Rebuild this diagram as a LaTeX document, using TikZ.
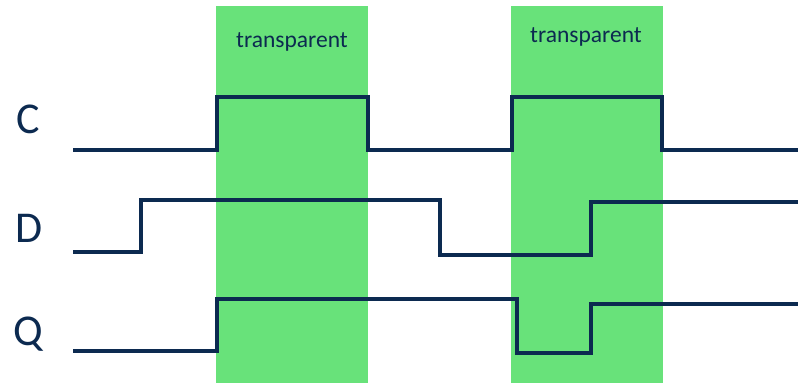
\documentclass[tikz,border=0pt]{standalone}
\usepackage{fontspec}
\setmainfont{Carlito}
\definecolor{navy}{RGB}{12,42,80}
\definecolor{latchgreen}{RGB}{104,226,122}
\tikzset{
  wave/.style={draw=navy, line width=3.6pt, line join=miter},
  window/.style={fill=latchgreen, draw=none},
  siglabel/.style={text=navy, font=\fontsize{44}{48}\selectfont, inner sep=0pt},
  winlabel/.style={text=navy, font=\fontsize{23.5}{26}\selectfont, inner sep=0pt}
}
\begin{document}
\begin{tikzpicture}[x=1pt,y=-1pt]
\useasboundingbox (0,0) rectangle (798,383);
% transparent windows
\fill[window] (216,6) rectangle (368,383);
\fill[window] (511,6) rectangle (663,383);
\node[winlabel] (t1) at (292,42) {transparent};
\node[winlabel] (t2) at (586,37) {transparent};
% labels
\node[siglabel] (lc) at (28,119) {C};
\node[siglabel] (ld) at (29,228) {D};
\node[siglabel] (lq) at (28,334) {Q};
% C
\draw[wave] (73,150) -- (217,150) -- (217,97) -- (368,97) -- (368,150)
  -- (512,150) -- (512,97) -- (662,97) -- (662,150) -- (798,150);
% D
\draw[wave] (73,252) -- (141,252) -- (141,200) -- (440,200) -- (440,255)
  -- (591,255) -- (591,202) -- (798,202);
% Q
\draw[wave] (73,351) -- (217,351) -- (217,299) -- (517,299) -- (517,353)
  -- (591,353) -- (591,304) -- (798,304);
\end{tikzpicture}
\end{document}
